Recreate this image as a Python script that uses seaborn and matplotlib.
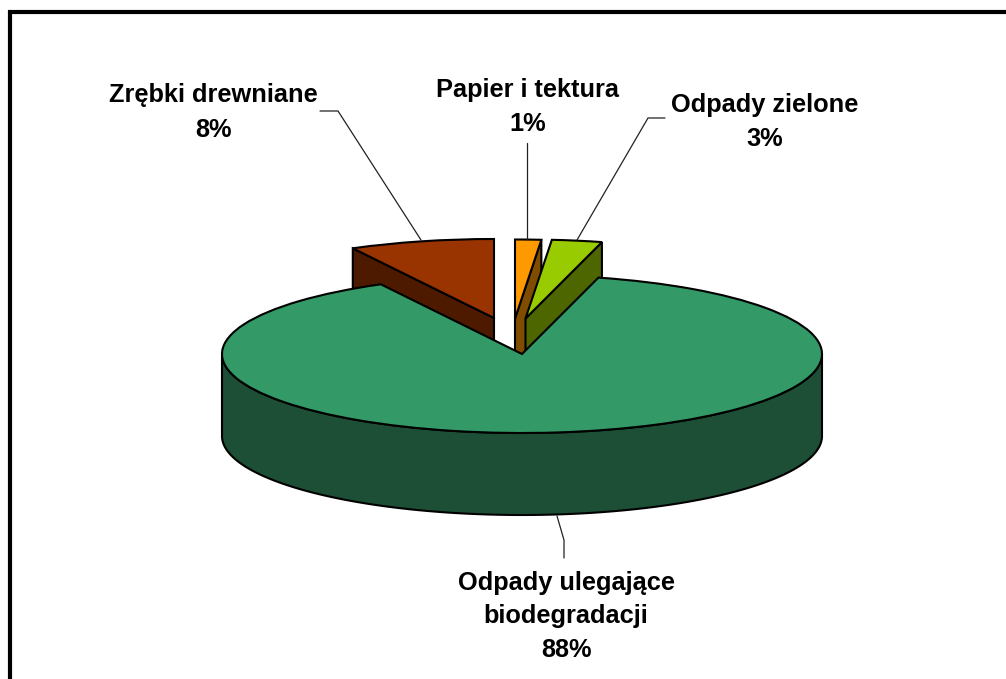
import numpy as np
import matplotlib
matplotlib.use("Agg")
import matplotlib.pyplot as plt
from matplotlib.lines import Line2D
from matplotlib.patches import Rectangle
import seaborn as sns

# slices, anticlockwise from 12 o'clock
names = ["Zrębki drewniane", "Odpady ulegające\nbiodegradacji", "Odpady zielone", "Papier i tektura"]
shares = [7.8, 88.1, 2.7, 1.4]
top_colors = ["#993300", "#339966", "#99CC00", "#FF9900"]
side_colors = ["#4D1A00", "#1C4F35", "#4D6600", "#804D00"]

W, H = 1006, 679
CX, CY, RX, RY, DEPTH = 522, 354, 300, 79, 82

sns.set_theme(style="white")
plt.rcParams["font.family"] = ["Liberation Sans", "DejaVu Sans"]

fig = plt.figure(figsize=(W / 100, H / 100), dpi=100)
ax = fig.add_axes([0, 0, 1, 1])

wedges, _ = ax.pie(shares, colors=sns.color_palette(top_colors), startangle=90, radius=1,
                   wedgeprops=dict(edgecolor="black", linewidth=1.5))
ax.set_aspect("auto")
ax.set_xlim(-CX / RX, (W - CX) / RX)
ax.set_ylim((CY - H) / RY, CY / RY)
ax.axis("off")

# pixel offsets of the pulled out slices
offsets = [(-28, -36), (0, 0), (3.5, -35.5), (-7, -35.5)]
depth = DEPTH / RY


def radial_wall(center, theta, color, z):
    t = np.radians(theta)
    rim = (center[0] + np.cos(t), center[1] + np.sin(t))
    ax.fill([center[0], rim[0], rim[0], center[0]],
            [center[1], rim[1], rim[1] - depth, center[1] - depth],
            facecolor=color, edgecolor="black", linewidth=1.5, zorder=z)


# back slices first, the large one covers their lower parts
wall_side = {0: "theta2", 2: "theta1", 3: "theta1"}
for i in [0, 3, 2]:
    w = wedges[i]
    center = (offsets[i][0] / RX, -offsets[i][1] / RY)
    w.set_center(center)
    z = {0: 1, 3: 2, 2: 3}[i]
    radial_wall(center, getattr(w, wall_side[i]), side_colors[i], z + 0.1)
    w.set_zorder(z + 0.2)

# outer wall of the large slice
t = np.radians(np.linspace(180, 360, 200))
xs = np.concatenate([np.cos(t), np.cos(t[::-1])])
ys = np.concatenate([np.sin(t) - depth, np.sin(t[::-1])])
ax.fill(xs, ys, facecolor=side_colors[1], edgecolor="black", linewidth=1.5, zorder=5)
wedges[1].set_zorder(6)


def leader(xs, ys):
    fig.add_artist(Line2D([x / W for x in xs], [1 - y / H for y in ys],
                          color="#222222", linewidth=0.9, zorder=8))


leader([320, 338, 421], [111, 111, 240])
leader([527, 527], [143, 239])
leader([665, 648, 577], [118, 118, 240])
leader([557, 564, 564], [516, 540, 558])

label_pos = [(213, 102, 137), (566, 590, 657), (765, 112, 146), (528, 97, 131)]
for name, share, (x, y1, y2) in zip(names, shares, label_pos):
    lines = name.split("\n") + [f"{share:.0f}%"]
    ys = np.linspace(y1, y2, len(lines))
    for line, y in zip(lines, ys):
        fig.text(x / W, 1 - y / H, line, ha="center", va="baseline",
                 fontsize=18.3, fontweight="bold", color="black")

# frame of the original chart area
fig.add_artist(Rectangle((10 / W, -0.1), (W - 5) / W, 1.1 - 12 / H, fill=False,
                         edgecolor="black", linewidth=3, zorder=10))

fig.savefig("out.png", dpi=100)
